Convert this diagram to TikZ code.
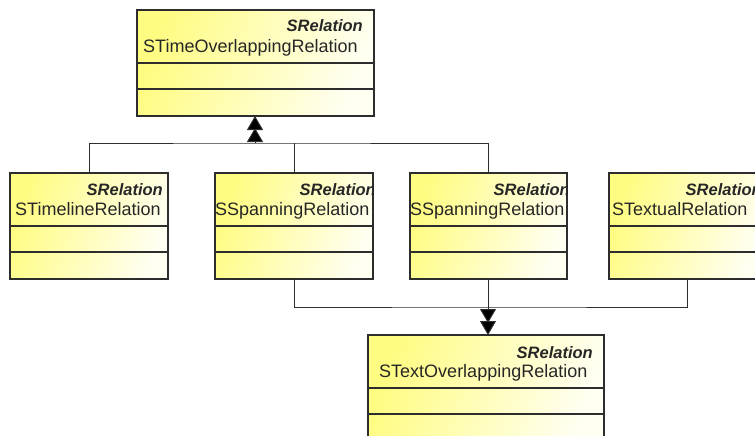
\documentclass[tikz,border=0pt]{standalone}
\usepackage{fontspec}
\setmainfont{Liberation Sans}
\usetikzlibrary{arrows.meta}
\definecolor{uy}{RGB}{255,252,130}
\definecolor{ul}{RGB}{45,45,45}
\tikzset{
  umlbox/.style={draw=ul, line width=1.2pt, anchor=north west, inner sep=0pt, outer sep=0pt,
    minimum height=106pt, top color=uy, middle color=uy!80!white, bottom color=uy!10!white, shading angle=70},
  stereo/.style={anchor=base east, inner sep=0pt, text=black!85, font=\fontsize{16.5}{18}\selectfont\bfseries\itshape},
  cname/.style={anchor=base west, inner sep=0pt, text=black!85, font=\fontsize{18}{20}\selectfont},
  divider/.style={draw=ul, line width=1.2pt},
  conn/.style={draw=ul, line width=1pt},
  gen/.style={conn, -{Triangle[width=16pt,length=14pt,sep=-2pt,fill=black]Triangle[width=16pt,length=14pt,fill=black]}}
}
\begin{document}
\begin{tikzpicture}[x=1pt,y=-1pt]
\useasboundingbox (0,0) rectangle (755,436);
\clip (0,0) rectangle (755,436);
% boxes
\node[umlbox, minimum width=237pt] (top) at (137,10) {};
\node[umlbox, minimum width=158pt] (tl) at (10,173) {};
\node[umlbox, minimum width=158pt] (sp1) at (215,173) {};
\node[umlbox, minimum width=157pt] (sp2) at (410,173) {};
\node[umlbox, minimum width=156pt] (tx) at (609,173) {};
\node[umlbox, minimum width=236pt] (bt) at (368,335) {};
% dividers
\foreach \b in {top,tl,sp1,sp2,tx,bt}{
  \draw[divider] ([yshift=-53pt]\b.north west) -- ([yshift=-53pt]\b.north east);
  \draw[divider] ([yshift=-79pt]\b.north west) -- ([yshift=-79pt]\b.north east);
}
% texts
\node[stereo] (tops) at (363,32) {SRelation};
\node[cname] (topn) at (143,53) {STimeOverlappingRelation};
\node[stereo] (tls) at (163,195) {SRelation};
\node[cname] (tln) at (15,215) {STimelineRelation};
\begin{scope}
\clip (sp1.north west) rectangle (sp1.south east);
\node[stereo] (sp1s) at (376,195) {SRelation};
\node[cname] (sp1n) at (215,215) {SSpanningRelation};
\end{scope}
\begin{scope}
\clip (sp2.north west) rectangle (sp2.south east);
\node[stereo] (sp2s) at (570,195) {SRelation};
\node[cname] (sp2n) at (410,215) {SSpanningRelation};
\end{scope}
\node[stereo] (txs) at (762,195) {SRelation};
\node[cname] (txn) at (612,215) {STextualRelation};
\node[stereo] (bts) at (593,358) {SRelation};
\node[cname] (btn) at (379,377) {STextOverlappingRelation};
% connectors
\coordinate (j1) at (255,143);
\coordinate (j2) at (488,307);
\draw[conn] (tl.north) |- (j1) -| (sp2.north);
\draw[conn] (sp1.north) -- (sp1.north |- j1);
\draw[gen] (j1) -- (top.south -| j1);
\draw[conn] (sp1.south) |- (j2) -| (tx.south);
\draw[conn] (sp2.south) -- (sp2.south |- j2);
\draw[gen] (j2) -- (bt.north -| j2);
\end{tikzpicture}
\end{document}
